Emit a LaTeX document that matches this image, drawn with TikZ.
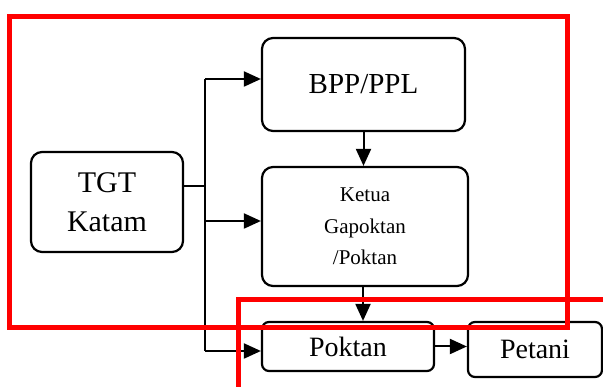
\documentclass[tikz,border=0pt]{standalone}
\usepackage{fontspec}
\setmainfont{Liberation Serif}
\newfontfamily\tnr{Liberation Serif}
\usepackage{xcolor}
\usepackage{tikz}
\usetikzlibrary{arrows.meta}

\begin{document}
\begin{tikzpicture}[x=1pt, y=-1pt,
  box/.style={draw, rounded corners=11pt, line width=2.2pt, align=center, inner sep=0pt},
  line/.style={line width=2pt},
  arr/.style={line width=2pt, -{Triangle[length=17pt, width=15pt]}},
  frame/.style={draw=red, line width=5pt}]
\clip (0,0) rectangle (603,387);
% Boxes
\node[box, minimum width=152pt, minimum height=100pt, font=\tnr\fontsize{30}{39}\selectfont] (tgt) at (107,202) {TGT\\Katam};
\node[box, minimum width=203pt, minimum height=93pt, font=\tnr\fontsize{29}{36}\selectfont] (bpp) at (363.5,84.5) {BPP/PPL};
\node[box, minimum width=206pt, minimum height=119pt, font=\tnr\fontsize{21}{31.5}\selectfont] (ketua) at (365,226.5) {Ketua\\Gapoktan\\/Poktan};
\node[box, rounded corners=7pt, minimum width=172pt, minimum height=49pt, font=\tnr\fontsize{28}{34}\selectfont] (poktan) at (348,346.5) {Poktan};
\node[box, rounded corners=7pt, minimum width=134pt, minimum height=55pt, font=\tnr\fontsize{28}{34}\selectfont] (petani) at (535,349.5) {Petani};
% Connectors
\coordinate (split) at (205,186);
\coordinate (ta) at (205,79);
\coordinate (tk) at (205,221);
\coordinate (tp) at (205,351);
\draw[line] (tgt.east |- split) -- (split);
\draw[line] (ta) -- (tp);
\draw[arr] (ta) -- (bpp.west |- ta);
\draw[arr] (tk) -- (ketua.west |- tk);
\draw[arr] (tp) -- (poktan.west |- tp);
\draw[arr] (bpp.south) -- (bpp.south |- ketua.north);
\draw[arr] (ketua.south -| 363,0) -- (363,0 |- poktan.north);
\draw[arr] (poktan.east) -- (petani.west |- poktan.east);
% Red frames
\draw[frame] (9.5,16.5) rectangle (567,328);
\draw[frame] (238,420) -- (238,299.5) -- (640,299.5);
\end{tikzpicture}
\end{document}
